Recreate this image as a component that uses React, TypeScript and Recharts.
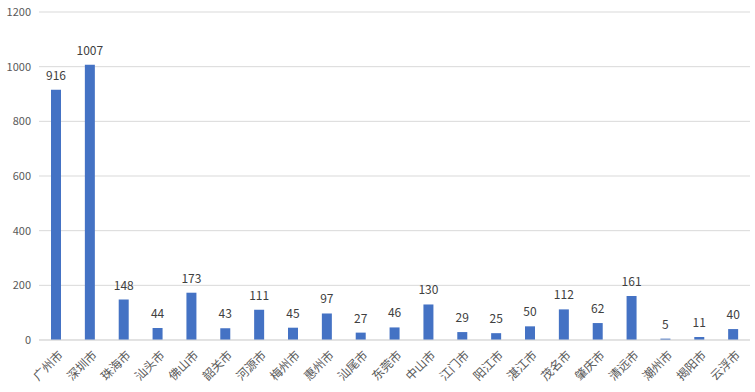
import React from "react";
import { BarChart, Bar, XAxis, YAxis, CartesianGrid, LabelList } from "recharts";

const cities = ["广州市", "深圳市", "珠海市", "汕头市", "佛山市", "韶关市", "河源市", "梅州市", "惠州市", "汕尾市", "东莞市", "中山市", "江门市", "阳江市", "湛江市", "茂名市", "肇庆市", "清远市", "潮州市", "揭阳市", "云浮市"];
const values = [916, 1007, 148, 44, 173, 43, 111, 45, 97, 27, 46, 130, 29, 25, 50, 112, 62, 161, 5, 11, 40];
const yTicks = [0, 200, 400, 600, 800, 1000, 1200];

const data = cities.map((c, i) => ({ city: c, value: values[i] }));

const FONT = "'Noto Sans CJK SC', 'Noto Sans', sans-serif";

const CityTick = (props: any) => {
  const { x, y, payload } = props;
  return (
    <g transform={`translate(${x + 4},${y + 4})`}>
      <text
        transform="rotate(-45)"
        textAnchor="end"
        dominantBaseline="central"
        fontSize={12}
        fill="#595959"
        fontFamily={FONT}
      >
        {payload.value}
      </text>
    </g>
  );
};

export default function App() {
  return (
    <div style={{ position: "absolute", left: 0, top: 0, background: "#fff" }}>
      <BarChart
        width={755}
        height={392}
        data={data}
        margin={{ top: 12, right: 5, bottom: 0, left: 0 }}
        barCategoryGap={0}
      >
        <CartesianGrid vertical={false} stroke="#d9d9d9" />
        <XAxis
          dataKey="city"
          interval={0}
          tick={<CityTick />}
          tickLine={false}
          axisLine={{ stroke: "#d9d9d9" }}
          height={52}
        />
        <YAxis
          domain={[0, 1200]}
          ticks={yTicks}
          width={39}
          tickLine={false}
          axisLine={false}
          tick={{ fontSize: 11, fill: "#595959", fontFamily: FONT }}
        />
        <Bar dataKey="value" fill="#4472c4" barSize={10} isAnimationActive={false}>
          <LabelList
            dataKey="value"
            position="top"
            offset={10}
            style={{ fontSize: 12, fill: "#404040", fontFamily: FONT }}
          />
        </Bar>
      </BarChart>
    </div>
  );
}
